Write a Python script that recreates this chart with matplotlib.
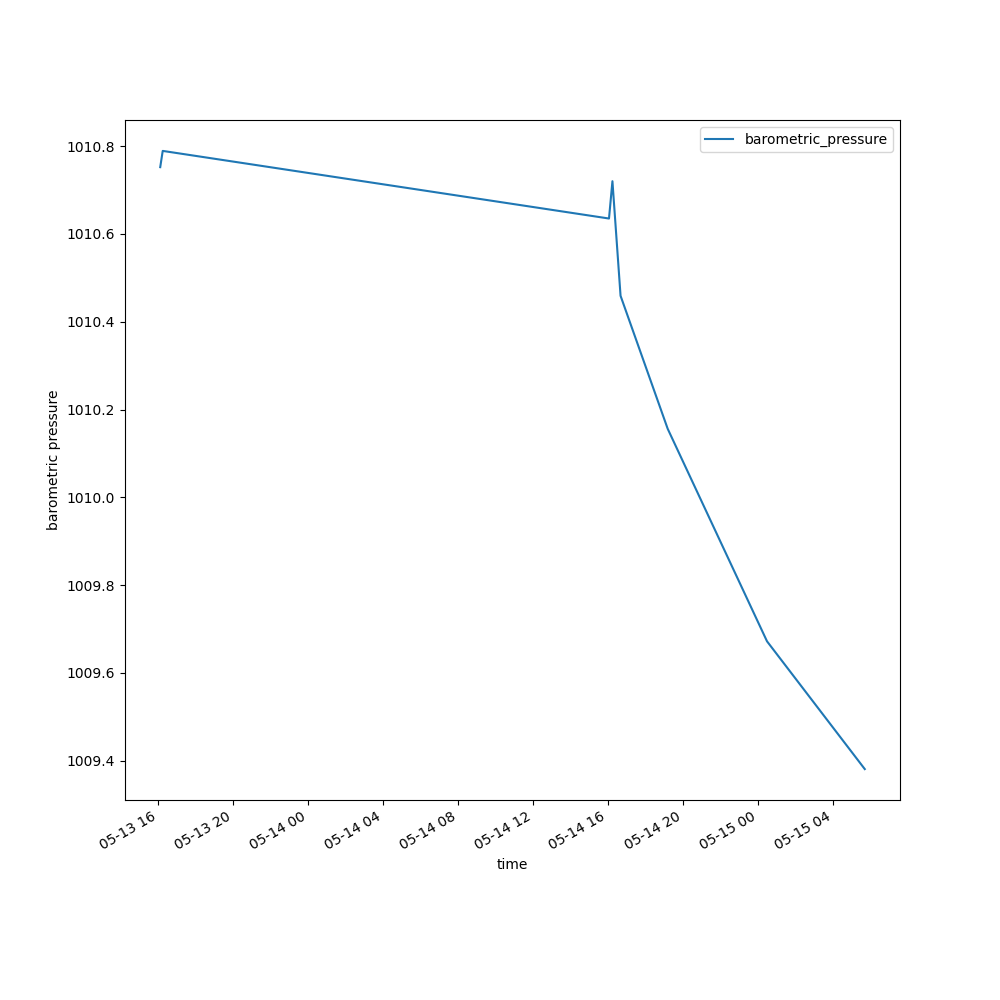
import matplotlib
matplotlib.use("Agg")
import matplotlib.pyplot as plt
from datetime import datetime

times = [
    "2023-05-13 16:07",
    "2023-05-13 16:15",
    "2023-05-14 16:04",
    "2023-05-14 16:15",
    "2023-05-14 16:41",
    "2023-05-14 19:12",
    "2023-05-15 00:30",
    "2023-05-15 05:43",
]
pressure = [1010.752, 1010.789, 1010.635, 1010.720, 1010.459, 1010.156, 1009.672, 1009.381]

t = [datetime.strptime(s, "%Y-%m-%d %H:%M") for s in times]

fig, ax = plt.subplots(figsize=(10, 10), dpi=100)
ax.plot(t, pressure, label="barometric_pressure")
ax.set_xlabel("time")
ax.set_ylabel("barometric pressure")
ax.legend(loc="upper right")
fig.autofmt_xdate()
fig.savefig("out.png")
